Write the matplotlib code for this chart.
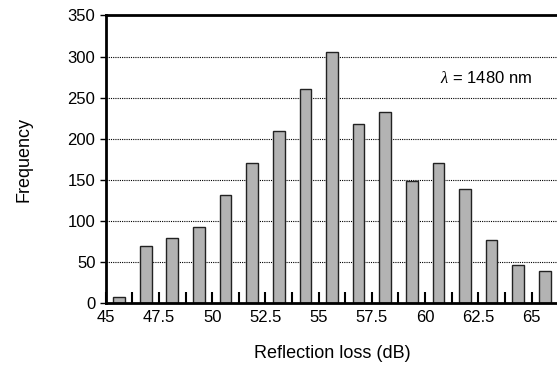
import matplotlib
matplotlib.use("Agg")
import matplotlib.pyplot as plt
import numpy as np

plt.rcParams['font.family'] = ['Liberation Sans', 'DejaVu Sans']
plt.rcParams['mathtext.fontset'] = 'custom'
plt.rcParams['mathtext.it'] = 'Liberation Serif:italic'

# histogram bins of 1.25 dB starting at 45 dB
bin_start = 45.0
bin_width = 1.25
counts = [7, 69, 79, 93, 132, 171, 210, 260, 306, 218, 233, 149, 171, 139, 77, 47, 39]
xtick_labels = ['45', '47.5', '50', '52.5', '55', '57.5', '60', '62.5', '65']
yticks = [0, 50, 100, 150, 200, 250, 300, 350]

centers = bin_start + bin_width * (np.arange(len(counts)) + 0.5)

fig = plt.figure(figsize=(5.57, 3.68), dpi=100)
ax = fig.add_axes([0.19, 0.176, 0.812, 0.782])

ax.set_axisbelow(True)
for y in yticks[1:-1]:
    ax.axhline(y, color='black', linestyle=(0, (1, 1)), linewidth=0.8, zorder=0)

ax.bar(centers, counts, width=0.55, color='#b3b3b3', edgecolor='#222222',
       linewidth=1.0, zorder=2)

ax.set_xlim(bin_start, bin_start + bin_width * len(counts))
ax.set_ylim(0, 350)

ax.set_xticks(bin_start + bin_width * np.arange(len(counts)), minor=True)
ax.set_xticks([float(t) for t in xtick_labels])
ax.set_xticklabels(xtick_labels)
ax.tick_params(axis='x', which='both', direction='in', length=8, width=1.5,
               labelsize=12, pad=5)
ax.set_yticks(yticks)
ax.tick_params(axis='y', direction='out', length=4, width=1.0, labelsize=12)

for side in ['left', 'bottom', 'top']:
    ax.spines[side].set_linewidth(2.0)
ax.spines['right'].set_visible(False)

ax.set_xlabel('Reflection loss (dB)', fontsize=13, labelpad=14)
ax.set_ylabel('Frequency', fontsize=13, labelpad=25)

ax.text(60.7, 274, r'$\lambda$ = 1480 nm', fontsize=12, va='center', ha='left')

fig.savefig('out.png', dpi=100)
